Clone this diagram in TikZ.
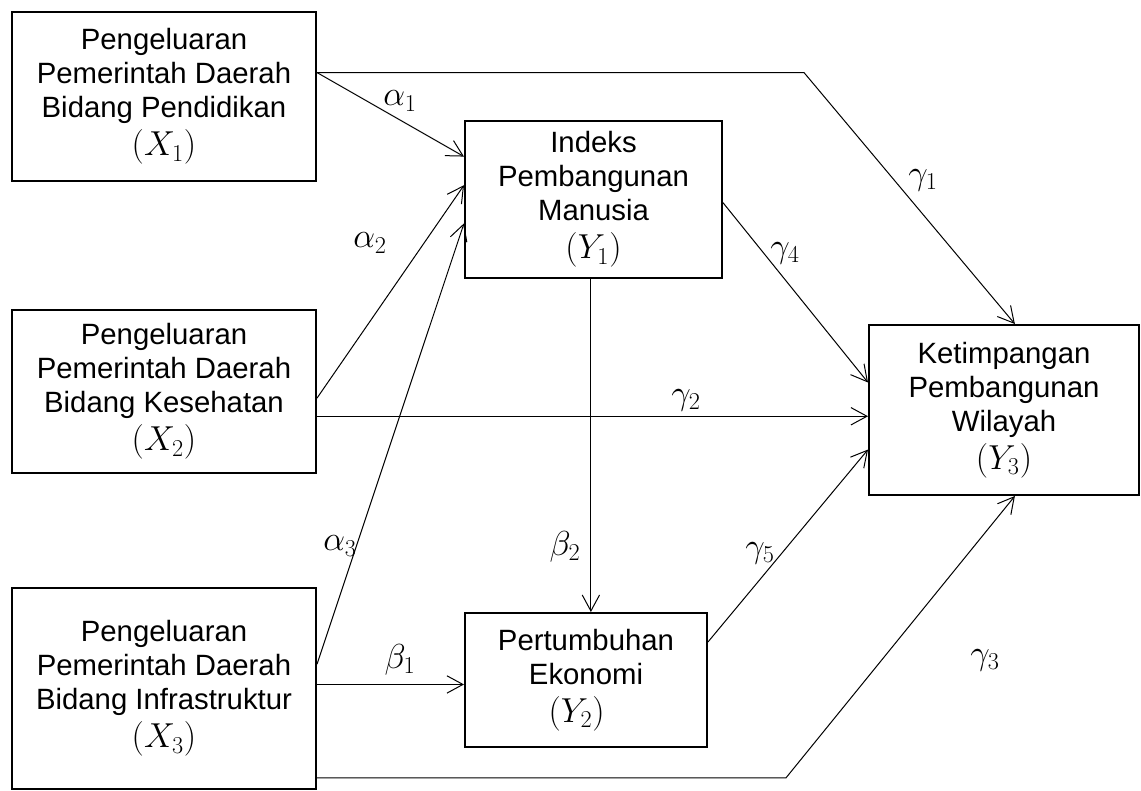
\RequirePackage{fix-cm}
\documentclass[tikz,border=0pt]{standalone}
\usepackage[no-math]{fontspec}
\setmainfont{Liberation Sans}
\usetikzlibrary{arrows.meta, calc}
\newcommand{\var}[1]{{\fontsize{26}{31}\selectfont$(#1)$}}

\begin{document}
\begin{tikzpicture}[
    x=0.75pt, y=-0.75pt,
    >={Straight Barb[length=12pt,width=13pt]},
    every node/.style={font=\fontsize{22}{25.5}\selectfont},
    box/.style={draw, line width=1.5pt, align=center, inner sep=0pt},
    arr/.style={->, line width=0.75pt},
    lbl/.style={inner sep=1pt, font=\fontsize{26}{30}\selectfont},
]
\useasboundingbox (0,0) rectangle (1141,790);

\node[box, minimum width=228pt, minimum height=126.75pt] (x1) at (164,96.5)
    {Pengeluaran\\Pemerintah Daerah\\Bidang Pendidikan\\[3pt]\var{X_1}};
\node[box, minimum width=228pt, minimum height=122.25pt] (x2) at (164,391.5)
    {Pengeluaran\\Pemerintah Daerah\\Bidang Kesehatan\\[3pt]\var{X_2}};
\node[box, minimum width=228pt, minimum height=150.75pt] (x3) at (164,688.5)
    {Pengeluaran\\Pemerintah Daerah\\Bidang Infrastruktur\\[3pt]\var{X_3}};
\node[box, minimum width=192.75pt, minimum height=117.75pt] (y1) at (593.5,199.5)
    {Indeks\\Pembangunan\\Manusia\\[3pt]\var{Y_1}};
\node[box, minimum width=181.5pt, minimum height=100.5pt] (y2) at (586,680)
    {Pertumbuhan\\Ekonomi\\[3pt]\var{Y_2}\hspace*{14pt}};
\node[box, minimum width=202.5pt, minimum height=127.5pt] (y3) at (1004,410)
    {Ketimpangan\\Pembangunan\\Wilayah\\[3pt]\var{Y_3}};

% paths into Y1
\draw[arr] ($(x1.north east)!.36!(x1.south east)$) -- ($(y1.north west)!.23!(y1.south west)$);
\draw[arr] ($(x2.north east)!.54!(x2.south east)$) -- ($(y1.north west)!.41!(y1.south west)$);
\draw[arr] ($(x3.north east)!.38!(x3.south east)$) -- ($(y1.north west)!.65!(y1.south west)$);

% paths into Y2
\draw[arr] ($(x3.north east)!.48!(x3.south east)$) coordinate (b1)
    -- (b1 -| y2.west);
\draw[arr] ($(y2.north west)!.52!(y2.north east)$) coordinate (b2)
    ++(0,-335) -- (b2);

% paths into Y3
\draw[arr] ($(x1.north east)!.36!(x1.south east)$) -- ++(487,0)
    -- ($(y3.north west)!.54!(y3.north east)$);
\draw[arr] ($(x2.north east)!.65!(x2.south east)$) coordinate (g2)
    -- (g2 -| y3.west);
\draw[arr] ($(x3.north east)!.94!(x3.south east)$) -- ++(469,0)
    -- ($(y3.south west)!.54!(y3.south east)$);
\draw[arr] ($(y1.north east)!.52!(y1.south east)$) -- ($(y3.north west)!.34!(y3.south west)$);
\draw[arr] ($(y2.north east)!.22!(y2.south east)$) -- ($(y3.north west)!.73!(y3.south west)$);

% coefficients
\node[lbl] (a1) at (400,101) {$\alpha_1$};
\node[lbl] (a2) at (370,243) {$\alpha_2$};
\node[lbl] (a3) at (340,546) {$\alpha_3$};
\node[lbl] (be1) at (400,660) {$\beta_1$};
\node[lbl] (be2) at (565,547) {$\beta_2$};
\node[lbl] (g1) at (923,180) {$\gamma_1$};
\node[lbl] (gl2) at (686,400) {$\gamma_2$};
\node[lbl] (g3) at (985,660) {$\gamma_3$};
\node[lbl] (g4) at (785,253) {$\gamma_4$};
\node[lbl] (g5) at (760,553) {$\gamma_5$};
\end{tikzpicture}
\end{document}
